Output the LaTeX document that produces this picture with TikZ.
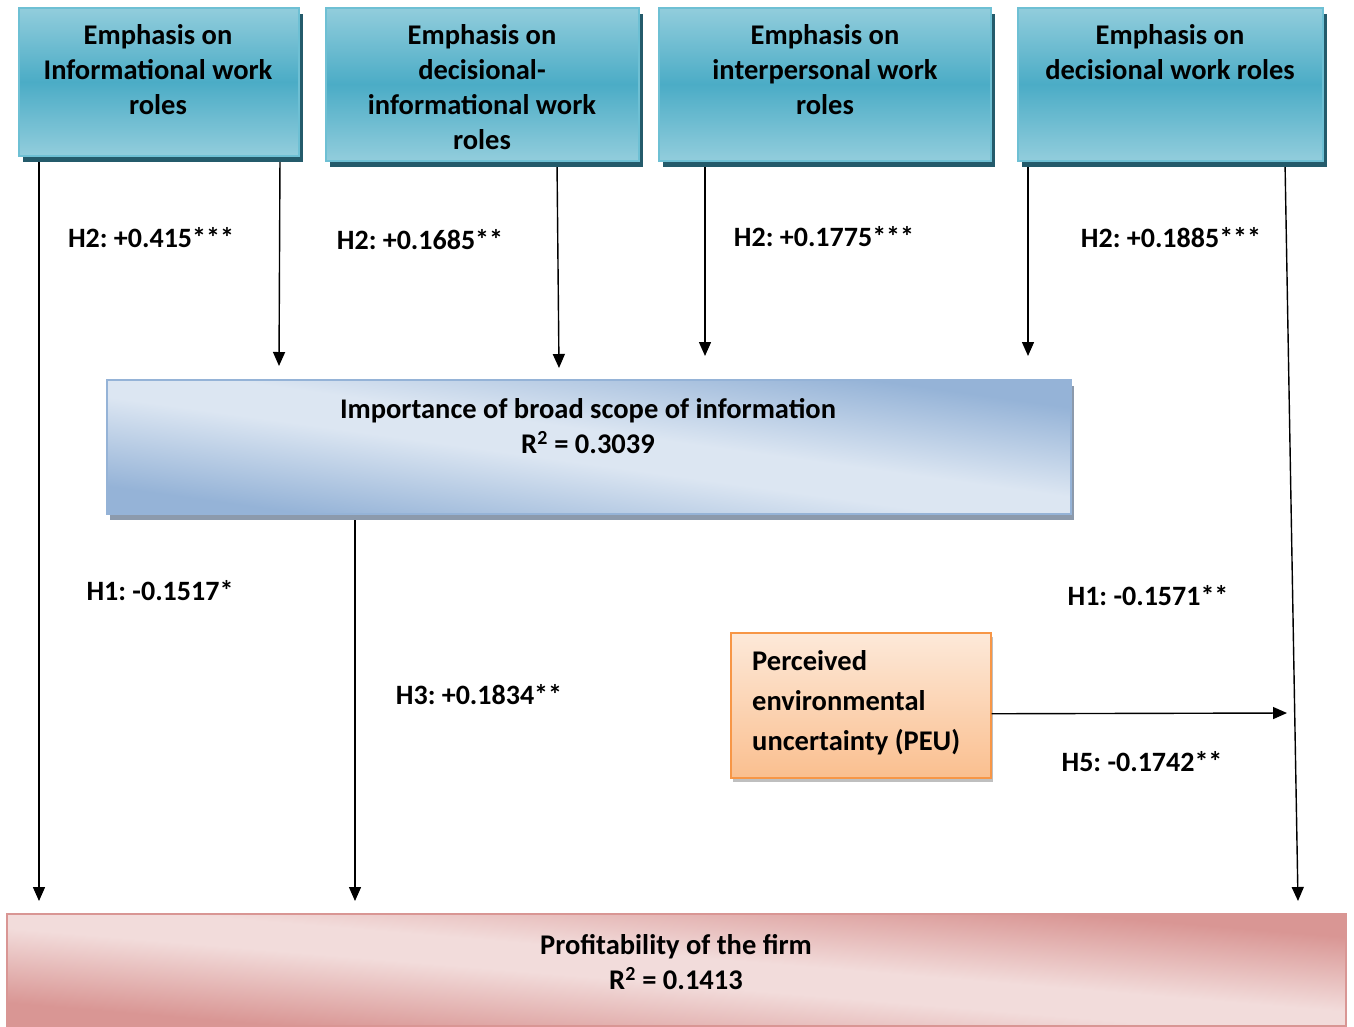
\documentclass[tikz,border=0pt]{standalone}
\usepackage{fontspec}
\setmainfont{Carlito}
\frenchspacing
\usetikzlibrary{arrows.meta,shadows}
\pgfdeclarelayer{bg}\pgfsetlayers{bg,main}
\definecolor{tealL}{HTML}{92CDDC}
\definecolor{tealM}{HTML}{4BACC6}
\definecolor{tealB}{HTML}{6EC0D4}
\definecolor{tealS}{HTML}{245B6B}
\definecolor{blueL}{HTML}{DCE6F2}
\definecolor{blueD}{HTML}{95B3D7}
\definecolor{blueS}{HTML}{8C9AAC}
\definecolor{orL}{HTML}{FDE9D9}
\definecolor{orD}{HTML}{FABF8F}
\definecolor{orB}{HTML}{F79646}
\definecolor{pkL}{HTML}{F2DCDB}
\definecolor{pkD}{HTML}{D99694}
\pgfdeclarehorizontalshading{midshade}{100bp}{color(0bp)=(blueD); color(12bp)=(blueD); color(44bp)=(blueL); color(56bp)=(blueL); color(88bp)=(blueD); color(100bp)=(blueD)}
\pgfdeclarehorizontalshading{profshade}{100bp}{color(0bp)=(pkD); color(12bp)=(pkD); color(44bp)=(pkL); color(56bp)=(pkL); color(88bp)=(pkD); color(100bp)=(pkD)}
\begin{document}
\begin{tikzpicture}[x=1pt,y=-1pt,
  font=\bfseries\fontsize{28.5}{35}\selectfont,
  diag/.style n args={3}{path picture={
      \pgftransformshift{\pgfpointanchor{path picture bounding box}{center}}
      \pgftransformxscale{#2/68}\pgftransformyscale{#3/68}
      \pgftransformrotate{45}
      \pgflowlevelsynccm
      \pgfuseshading{#1}}},
  rolebox/.style={draw=tealB, line width=1.5pt, top color=tealL, bottom color=tealL, middle color=tealM,
    anchor=north west, inner sep=0pt,
    drop shadow={shadow xshift=4pt, shadow yshift=-6pt, fill=tealS, opacity=1}},
  midbox/.style={draw=blueD, line width=1.5pt, fill=blueL, diag={midshade}{964}{134},
    anchor=north west, inner sep=0pt,
    drop shadow={shadow xshift=3pt, shadow yshift=-6pt, fill=blueS, opacity=1}},
  peubox/.style={draw=orB, line width=1.5pt, top color=orL, bottom color=orD,
    anchor=north west, inner sep=0pt,
    drop shadow={shadow xshift=2pt, shadow yshift=-4pt, fill=black, opacity=0.25}},
  profbox/.style={draw=pkD, line width=1.5pt, fill=pkL, diag={profshade}{1339}{112},
    anchor=north west, inner sep=0pt},
  txt/.style={align=center, inner sep=0pt},
  lbl/.style={inner sep=0pt, font=\bfseries\fontsize{28}{34}\selectfont},
  arr/.style={line width=1.4pt, -{Triangle[width=12pt,length=14pt]}}
]
\useasboundingbox (0,0) rectangle (1354,1026);

% boxes
\node[rolebox, minimum width=280pt, minimum height=148pt] (b1) at (18,7) {};
\node[rolebox, minimum width=313pt, minimum height=153pt] (b2) at (325,7) {};
\node[rolebox, minimum width=332pt, minimum height=153pt] (b3) at (658,7) {};
\node[rolebox, minimum width=305pt, minimum height=153pt] (b4) at (1017,7) {};
\node[midbox, minimum width=964pt, minimum height=134pt] (mid) at (106,379) {};
\node[peubox, minimum width=260pt, minimum height=145pt] (peu) at (730,632) {};
\node[profbox, minimum width=1339pt, minimum height=112pt] (prof) at (6,913) {};

% box texts
\node[txt] (t1) at (158,70) {Emphasis on\\Informational work\\roles};
\node[txt] (t2) at (482,87.5) {Emphasis on\\decisional-\\informational work\\roles};
\node[txt] (t3) at (825,70) {Emphasis on\\interpersonal work\\roles};
\node[txt] (t4) at (1170,52.5) {Emphasis on\\decisional work roles};
\node[txt] (tm) at (588,426.5) {Importance of broad scope of information\\R\textsuperscript{2} = 0.3039};
\node[txt] (tp) at (676,962) {Profitability of the firm\\R\textsuperscript{2} = 0.1413};
\node[inner sep=0pt, align=left, anchor=west, font=\bfseries\fontsize{28.5}{40}\selectfont] (te) at (752,703) {Perceived\\environmental\\uncertainty (PEU)};

% end points
\coordinate (e1) at (39,901);
\coordinate (e2) at (279,366);
\coordinate (e3) at (559,368);
\coordinate (e4) at (705,356);
\coordinate (e5) at (1028,356);
\coordinate (e6) at (1298,901);
\coordinate (e7) at (355,901);
\coordinate (e8) at (1287,713);

\begin{pgfonlayer}{bg}
\draw[arr] ([xshift=21pt]b1.south west) -- (e1);
\draw[arr] ([xshift=262pt]b1.south west) -- (e2);
\draw[arr] ([xshift=232pt]b2.south west) -- (e3);
\draw[arr] ([xshift=47pt]b3.south west) -- (e4);
\draw[arr] ([xshift=11pt]b4.south west) -- (e5);
\draw[arr] ([xshift=268pt]b4.south west) -- (e6);
\draw[arr] ([xshift=249pt]mid.south west) -- (e7);
\end{pgfonlayer}
\draw[arr] ([yshift=-8.5pt]peu.east) -- (e8);

% labels
\node[lbl] (l1) at (151,238) {H2: +0.415***};
\node[lbl] (l2) at (420,240) {H2: +0.1685**};
\node[lbl] (l3) at (824,237) {H2: +0.1775***};
\node[lbl] (l4) at (1171,238) {H2: +0.1885***};
\node[lbl] (l5) at (160,591) {H1: -0.1517*};
\node[lbl] (l6) at (479,695) {H3: +0.1834**};
\node[lbl] (l7) at (1148,596) {H1: -0.1571**};
\node[lbl] (l8) at (1142,762) {H5: -0.1742**};
\end{tikzpicture}
\end{document}
